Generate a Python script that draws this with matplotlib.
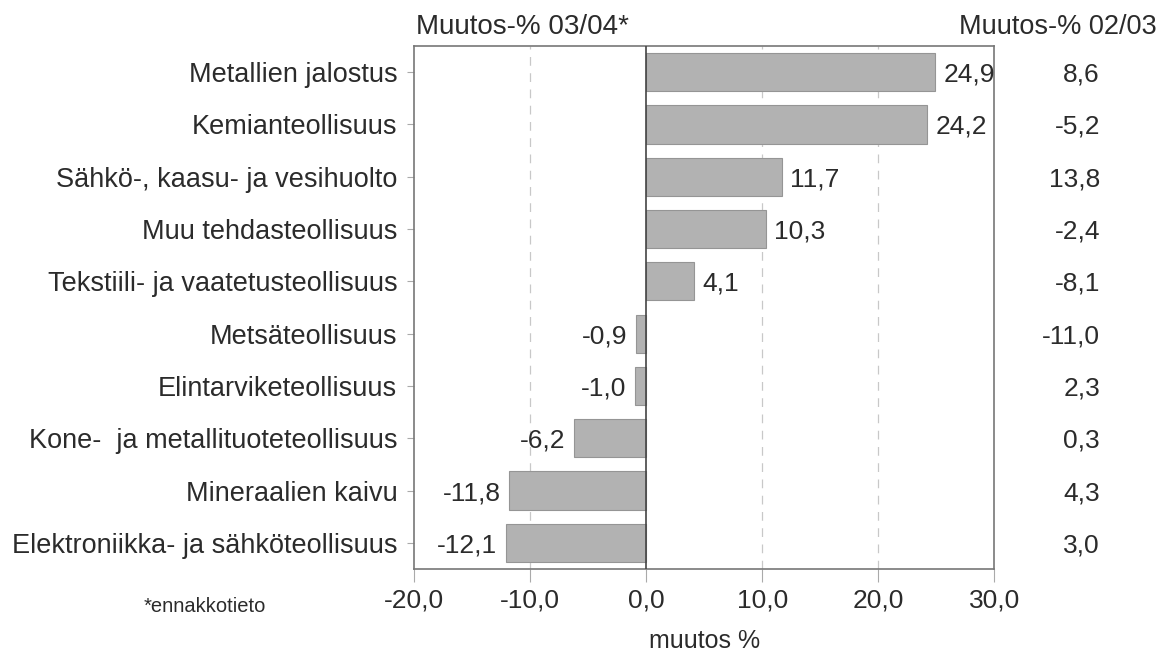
import matplotlib
matplotlib.use('Agg')
import matplotlib.pyplot as plt
import matplotlib.transforms as mtransforms
import numpy as np

# data
categories = ['Metallien jalostus', 'Kemianteollisuus', 'Sähkö-, kaasu- ja vesihuolto',
              'Muu tehdasteollisuus', 'Tekstiili- ja vaatetusteollisuus', 'Metsäteollisuus',
              'Elintarviketeollisuus', 'Kone-  ja metallituoteteollisuus', 'Mineraalien kaivu',
              'Elektroniikka- ja sähköteollisuus']
change_0304 = [24.9, 24.2, 11.7, 10.3, 4.1, -0.9, -1.0, -6.2, -11.8, -12.1]
change_0203 = [8.6, -5.2, 13.8, -2.4, -8.1, -11.0, 2.3, 0.3, 4.3, 3.0]
xticks = [-20, -10, 0, 10, 20, 30]

def fi(v):
    return ('%.1f' % v).replace('.', ',')

plt.rcParams['font.family'] = ['Liberation Sans', 'DejaVu Sans']
txt = '#2b2b2b'
fs = 19

fig = plt.figure(figsize=(11.63, 6.53), dpi=100)
ax = fig.add_axes([0.356, 0.1286, 0.499, 0.801])

y = np.arange(len(categories))
ax.barh(y, change_0304, height=0.73, color='#b2b2b2', edgecolor='#959595', linewidth=0.8, zorder=3)

ax.set_xlim(-20, 30)
ax.set_ylim(len(categories) - 0.5, -0.5)
ax.set_xticks(xticks)
ax.set_xticklabels([fi(v) for v in xticks])
ax.set_yticks(y)
ax.set_yticklabels(categories)

for gx in [-10, 10, 20]:
    ax.axvline(gx, color='#c8c8c8', lw=0.9, ls=(0, (7, 6)), zorder=1)
ax.axvline(0, color='#444444', lw=1.2, zorder=4)

for sp in ax.spines.values():
    sp.set_color('#777777')
    sp.set_linewidth(1.2)

ax.tick_params(axis='y', length=5, width=0.8, color='#aaaaaa', labelsize=19.5, labelcolor=txt, pad=7)
ax.tick_params(axis='x', length=9, width=0.8, color='#aaaaaa', labelsize=fs, labelcolor=txt, pad=5)
ax.set_xlabel('muutos %', fontsize=18, color=txt, labelpad=12)

# value labels
for yi, v in zip(y, change_0304):
    if v >= 0:
        ax.annotate(fi(v), (v, yi), xytext=(6, 0), textcoords='offset points',
                    ha='left', va='center_baseline', fontsize=fs, color=txt, zorder=5)
    else:
        ax.annotate(fi(v), (v, yi), xytext=(-6, 0), textcoords='offset points',
                    ha='right', va='center_baseline', fontsize=fs, color=txt, zorder=5)

# right column
trans = mtransforms.blended_transform_factory(fig.transFigure, ax.transData)
for yi, v in zip(y, change_0203):
    ax.text(1100 / 1163, yi, fi(v), transform=trans, ha='right', va='center_baseline',
            fontsize=fs, color=txt, clip_on=False)

fig.text(416 / 1163, 1 - 27 / 653, 'Muutos-% 03/04*', ha='left', va='center', fontsize=20, color=txt)
fig.text(1157 / 1163, 1 - 27 / 653, 'Muutos-% 02/03', ha='right', va='center', fontsize=19.5, color=txt)
fig.text(205 / 1163, 1 - 606 / 653, '*ennakkotieto', ha='center', va='center', fontsize=14.5, color=txt)

fig.savefig('out.png', dpi=100)
